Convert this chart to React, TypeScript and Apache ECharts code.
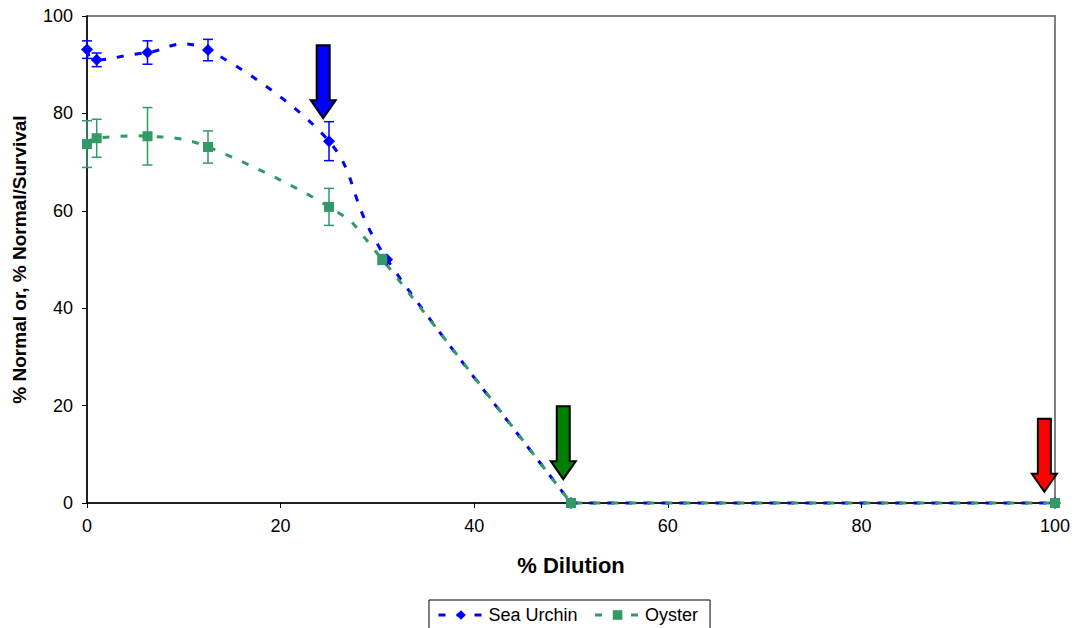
import React, { useEffect, useRef } from "react";
import * as echarts from "echarts";

const urchinX = [0, 1, 6.25, 12.5, 25, 31, 50, 100];
const urchinY = [93.1, 91.0, 92.5, 93.0, 74.3, 50.0, 0, 0];
const urchinErr = [1.8, 1.4, 2.4, 2.2, 4.0, 0, 0, 0];
const oysterX = [0, 1, 6.25, 12.5, 25, 30.5, 50, 100];
const oysterY = [73.7, 74.9, 75.3, 73.1, 60.8, 50.0, 0, 0];
const oysterErr = [4.8, 3.9, 5.9, 3.3, 3.8, 1.0, 0, 0];

const arrowTips = [
  { x: 24.4, y: 79.0, color: "#0000FF" },
  { x: 49.2, y: 4.9, color: "#008000" },
  { x: 98.9, y: 2.3, color: "#FF0000" },
];

const BLUE = "#0000FF";
const GREEN = "#339966";
const DASH = [7, 11];

function errData(xs: number[], ys: number[], es: number[]) {
  const out: number[][] = [];
  xs.forEach((x, i) => {
    if (es[i] > 0) out.push([x, ys[i] - es[i], ys[i] + es[i]]);
  });
  return out;
}

function errSeries(name: string, data: number[][], color: string) {
  return {
    type: "custom",
    name: name + "_err",
    z: 1,
    silent: true,
    data,
    encode: { x: 0, y: [1, 2] },
    renderItem: (_p: any, api: any) => {
      const x = api.value(0);
      const lo = api.coord([x, api.value(1)]);
      const hi = api.coord([x, api.value(2)]);
      const w = 5;
      const st = { stroke: color, lineWidth: 1.5 };
      return {
        type: "group",
        children: [
          { type: "line", shape: { x1: lo[0], y1: lo[1], x2: hi[0], y2: hi[1] }, style: st },
          { type: "line", shape: { x1: lo[0] - w, y1: lo[1], x2: lo[0] + w, y2: lo[1] }, style: st },
          { type: "line", shape: { x1: hi[0] - w, y1: hi[1], x2: hi[0] + w, y2: hi[1] }, style: st },
        ],
      };
    },
  };
}

// Smoothed (Catmull-Rom / Excel-like) line drawn through the library's scales.
function curveSeries(name: string, xs: number[], ys: number[], color: string) {
  return {
    type: "custom",
    name: name + "_curve",
    z: 2,
    silent: true,
    clip: false,
    data: xs.map((x, i) => [x, ys[i]]),
    encode: { x: 0, y: 1 },
    renderItem: (params: any, api: any) => {
      if (params.dataIndex !== 0) return null;
      const pts = xs.map((x, i) => api.coord([x, ys[i]]) as number[]);
      // smooth part ends at first zero value; after that the line runs flat
      let end = ys.findIndex((v) => v === 0);
      if (end < 0) end = pts.length - 1;
      let d = `M${pts[0][0]},${pts[0][1]}`;
      for (let i = 0; i < end; i++) {
        const p0 = pts[Math.max(0, i - 1)];
        const p1 = pts[i];
        const p2 = pts[i + 1];
        const p3 = pts[Math.min(end, i + 2)];
        const c1x = p1[0] + (p2[0] - p0[0]) / 6;
        const c1y = p1[1] + (p2[1] - p0[1]) / 6;
        const c2x = p2[0] - (p3[0] - p1[0]) / 6;
        const c2y = p2[1] - (p3[1] - p1[1]) / 6;
        d += ` C${c1x},${c1y} ${c2x},${c2y} ${p2[0]},${p2[1]}`;
      }
      for (let i = end + 1; i < pts.length; i++) d += ` L${pts[i][0]},${pts[i][1]}`;
      return {
        type: "path",
        z2: 10,
        shape: { pathData: d },
        style: { stroke: color, lineWidth: 3, lineDash: DASH, fill: "none" },
      };
    },
  };
}

export default function App() {
  const ref = useRef<HTMLDivElement>(null);
  useEffect(() => {
    document.body.style.margin = "0";
    const chart = echarts.init(ref.current!, undefined, { renderer: "svg" });
    const font = "Liberation Sans, Arial, sans-serif";
    chart.setOption({
      animation: false,
      textStyle: { fontFamily: font },
      grid: {
        left: 87,
        right: 20,
        top: 16,
        bottom: 125,
        show: true,
        borderColor: "#808080",
        borderWidth: 2,
        backgroundColor: "transparent",
      },
      xAxis: {
        type: "value",
        min: 0,
        max: 100,
        interval: 20,
        name: "% Dilution",
        nameLocation: "middle",
        nameGap: 51,
        nameTextStyle: { fontSize: 22, fontWeight: "bold", color: "#000", fontFamily: font },
        axisLine: { lineStyle: { color: "#000", width: 1.5 } },
        axisTick: { show: true, length: 5, lineStyle: { color: "#000" } },
        axisLabel: { fontSize: 18, color: "#000", margin: 14, fontFamily: font },
        splitLine: { show: false },
        z: 0,
      },
      yAxis: {
        type: "value",
        min: 0,
        max: 100,
        interval: 20,
        name: "% Normal or, % Normal/Survival",
        nameLocation: "middle",
        nameGap: 58,
        nameTextStyle: { fontSize: 19, fontWeight: "bold", color: "#000", fontFamily: font },
        axisLine: { show: true, lineStyle: { color: "#000", width: 1.5 } },
        axisTick: { show: true, length: 5, lineStyle: { color: "#000" } },
        axisLabel: { fontSize: 18, color: "#000", margin: 14, fontFamily: font },
        splitLine: { show: false },
        z: 0,
      },
      legend: {
        data: [
          { name: "Sea Urchin", lineStyle: { color: BLUE, width: 3, type: DASH, opacity: 1 } },
          { name: "Oyster", lineStyle: { color: GREEN, width: 3, type: DASH, opacity: 1 } },
        ],
        left: 429,
        top: 600,
        padding: [6, 12, 10, 8],
        itemGap: 16,
        itemWidth: 45,
        itemHeight: 12,
        borderColor: "#000",
        borderWidth: 1,
        textStyle: { fontSize: 18, color: "#000", fontFamily: font },
      },
      series: [
        errSeries("Sea Urchin", errData(urchinX, urchinY, urchinErr), BLUE),
        errSeries("Oyster", errData(oysterX, oysterY, oysterErr), GREEN),
        curveSeries("Sea Urchin", urchinX, urchinY, BLUE),
        curveSeries("Oyster", oysterX, oysterY, GREEN),
        {
          type: "line",
          name: "Sea Urchin",
          data: urchinX.map((x, i) => [x, urchinY[i]]),
          symbol: "diamond",
          symbolSize: 12,
          itemStyle: { color: BLUE },
          lineStyle: { color: BLUE, width: 0, opacity: 0 },
          z: 3,
        },
        {
          type: "line",
          name: "Oyster",
          data: oysterX.map((x, i) => [x, oysterY[i]]),
          symbol: "rect",
          symbolSize: 10,
          itemStyle: { color: GREEN },
          lineStyle: { color: GREEN, width: 0, opacity: 0 },
          z: 4,
        },
      ],
    });

    const graphics = arrowTips.map((a) => {
      const p = chart.convertToPixel({ gridIndex: 0 }, [a.x, a.y]) as number[];
      const tx = p[0];
      const ty = p[1];
      const bodyHalf = 6.5;
      const headHalf = 12.5;
      const headLen = 18;
      const total = 73;
      return {
        type: "polygon",
        z: 100,
        shape: {
          points: [
            [tx, ty],
            [tx - headHalf, ty - headLen],
            [tx - bodyHalf, ty - headLen],
            [tx - bodyHalf, ty - total],
            [tx + bodyHalf, ty - total],
            [tx + bodyHalf, ty - headLen],
            [tx + headHalf, ty - headLen],
          ],
        },
        style: { fill: a.color, stroke: "#000", lineWidth: 2 },
      };
    });
    chart.setOption({ graphic: graphics });

    return () => chart.dispose();
  }, []);
  return <div ref={ref} style={{ width: 1075, height: 628 }} />;
}
